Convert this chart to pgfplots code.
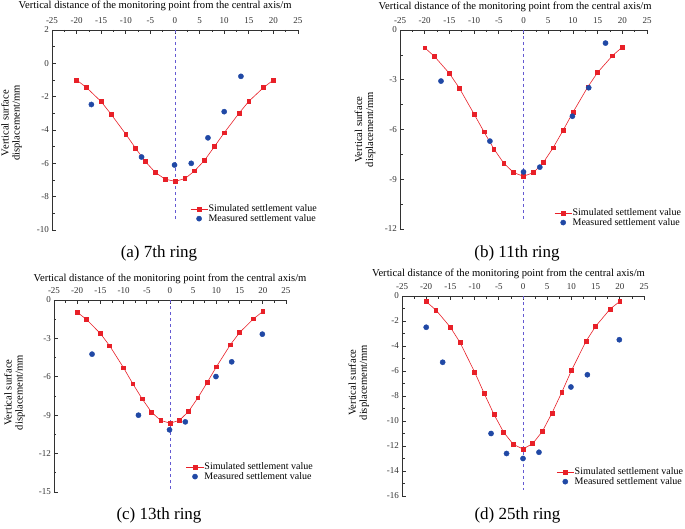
\documentclass[border=0pt]{standalone}
\usepackage{fontspec}
\setmainfont{Liberation Serif}
\usepackage{pgfplots}
\pgfplotsset{compat=1.18}
\definecolor{simred}{RGB}{232,32,40}
\definecolor{measblue}{RGB}{32,72,165}
\definecolor{dashc}{RGB}{100,90,210}
\definecolor{axc}{RGB}{50,50,50}
\pgfplotsset{
 myaxis/.style={
  scale only axis,
  anchor=south west,
  axis x line*=top,
  axis y line*=left,
  xmin=-25,xmax=25,
  xtick={-25,-20,...,25},
  minor x tick num=1,
  minor y tick num=1,
  tick align=inside,
  major tick length=4pt,
  minor tick length=2.5pt,
  axis line style={axc, line width=0.8pt},
  every tick/.style={axc, line width=0.7pt},
  tick label style={font=\fontsize{9}{9}\selectfont, text=axc, inner sep=1pt},
  xticklabel style={yshift=5pt},
  yticklabel style={xshift=-2pt},
  /pgf/number format/assume math mode=true,
  xlabel={Vertical distance of the monitoring point from the central axis/m},
  ylabel={Vertical surface\\displacement/mm},
  label style={font=\fontsize{10.6}{11}\selectfont},
  legend style={draw=none, fill=none, anchor=north west, font=\fontsize{10}{10}\selectfont, row sep=0pt, nodes={inner sep=0.6pt}},
  legend cell align=left,
  clip=false,
 },
 simstyle/.style={simred, line width=0.6pt, mark=square*, mark size=1.9pt, mark options={fill=simred, draw=simred}},
 measstyle/.style={only marks, mark=*, mark size=2.6pt, mark options={fill=measblue, draw=measblue}},
 dashstyle/.style={dashc, dashed, line width=0.7pt, forget plot},
}
\begin{document}
\begin{tikzpicture}[x=1pt,y=1pt]
\useasboundingbox (0,0) rectangle (685,528);
% (a)
\begin{axis}[myaxis, at={(52pt,298pt)}, width=246pt, height=200pt,
  ymin=-10, ymax=2, ytick={-10,-8,...,2},
  xlabel style={at={(axis description cs:0.419,1.12)}, anchor=center},
  ylabel style={at={(axis description cs:-0.165,0.535)}, anchor=center, align=center},
  legend style={at={(0.549,0.14)}}]
\addplot[dashstyle] coordinates {(0,2) (0,-9.45)};
\addplot[simstyle] coordinates {(-20,-1.0) (-18,-1.45) (-15,-2.3) (-13,-3.05) (-10,-4.25) (-8,-5.1) (-6,-5.9) (-4,-6.55) (-2,-6.95) (0,-7.08) (2,-6.92) (4,-6.45) (6,-5.82) (8,-5.0) (10,-4.17) (13,-3.0) (15,-2.28) (18,-1.45) (20,-1.0)};
\addplot[measstyle] coordinates {(-17,-2.47) (-6.8,-5.62) (-0.1,-6.1) (3.3,-6.0) (6.7,-4.47) (10,-2.9) (13.4,-0.78)};
\legend{Simulated settlement value, Measured settlement value}
\end{axis}
% (b)
\begin{axis}[myaxis, at={(400pt,299pt)}, width=247pt, height=199pt,
  ymin=-12, ymax=0, ytick={-12,-9,...,0},
  xlabel style={at={(axis description cs:0.466,1.116)}, anchor=center},
  ylabel style={at={(axis description cs:-0.142,0.5)}, anchor=center, align=center},
  legend style={at={(0.612,0.116)}}]
\addplot[dashstyle] coordinates {(0,0) (0,-11.4)};
\addplot[simstyle] coordinates {(-20,-1.07) (-18,-1.6) (-15,-2.62) (-13,-3.5) (-10,-5.07) (-8,-6.14) (-6,-7.17) (-4,-8.03) (-2,-8.6) (0,-8.82) (2,-8.6) (4,-8.0) (6,-7.1) (8,-6.06) (10,-4.97) (13,-3.44) (15,-2.56) (18,-1.55) (20,-1.03)};
\addplot[measstyle] coordinates {(-16.7,-3.08) (-6.8,-6.7) (0,-8.56) (3.3,-8.27) (9.9,-5.2) (13.2,-3.48) (16.6,-0.79)};
\legend{Simulated settlement value, Measured settlement value}
\end{axis}
% (c)
\begin{axis}[myaxis, at={(54pt,36pt)}, width=232pt, height=192pt,
  ymin=-15, ymax=0, ytick={-15,-12,...,0},
  xlabel style={at={(axis description cs:0.5,1.109)}, anchor=center},
  ylabel style={at={(axis description cs:-0.17,0.518)}, anchor=center, align=center},
  legend style={at={(0.556,0.167)}}]
\addplot[dashstyle] coordinates {(0,0) (0,-14.8)};
\addplot[simstyle] coordinates {(-20,-0.95) (-18,-1.52) (-15,-2.62) (-13,-3.58) (-10,-5.30) (-8,-6.55) (-6,-7.72) (-4,-8.76) (-2,-9.41) (0,-9.62) (2,-9.41) (4,-8.71) (6,-7.64) (8,-6.45) (10,-5.22) (13,-3.50) (15,-2.54) (18,-1.47) (20,-0.90)};
\addplot[measstyle] coordinates {(-16.8,-4.23) (-6.8,-9.0) (-0.1,-10.14) (3.3,-9.52) (9.9,-5.98) (13.3,-4.83) (19.9,-2.67)};
\legend{Simulated settlement value, Measured settlement value}
\end{axis}
% (d)
\begin{axis}[myaxis, at={(402pt,32pt)}, width=242pt, height=200pt,
  ymin=-16, ymax=0, ytick={-16,-14,...,0},
  xlabel style={at={(axis description cs:0.44,1.11)}, anchor=center},
  ylabel style={at={(axis description cs:-0.179,0.567)}, anchor=center, align=center},
  legend style={at={(0.625,0.155)}}]
\addplot[dashstyle] coordinates {(0,0) (0,-15.5)};
\addplot[simstyle] coordinates {(-20,-0.45) (-18,-1.12) (-15,-2.5) (-13,-3.73) (-10,-6.08) (-8,-7.81) (-6,-9.47) (-4,-10.9) (-2,-11.87) (0,-12.24) (2,-11.81) (4,-10.83) (6,-9.36) (8,-7.71) (10,-5.97) (13,-3.63) (15,-2.43) (18,-1.04) (20,-0.43)};
\addplot[measstyle] coordinates {(-20,-2.5) (-16.6,-5.3) (-6.6,-11.0) (-3.4,-12.6) (0,-13.0) (3.3,-12.5) (9.9,-7.28) (13.3,-6.3) (19.9,-3.5)};
\legend{Simulated settlement value, Measured settlement value}
\end{axis}
\node[font=\fontsize{17}{17}\selectfont] at (159,275) {(a) 7th ring};
\node[font=\fontsize{17}{17}\selectfont] at (517,275) {(b) 11th ring};
\node[font=\fontsize{17}{17}\selectfont] at (159,13) {(c) 13th ring};
\node[font=\fontsize{17}{17}\selectfont] at (517.5,13) {(d) 25th ring};
\end{tikzpicture}
\end{document}
